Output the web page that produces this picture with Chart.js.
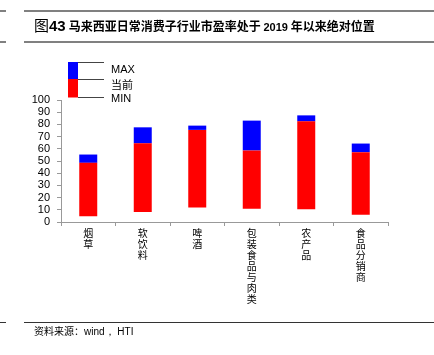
<!DOCTYPE html>
<html>
<head>
<meta charset="utf-8">
<script src="https://cdn.jsdelivr.net/npm/chart.js@4"></script>
<style>
  html, body { margin: 0; padding: 0; background: #fff; }
  body { width: 434px; height: 355px; position: relative; overflow: hidden; }
  #wrap { position: absolute; left: 0; top: 0; width: 434px; height: 355px; }
  .rule { position: absolute; height: 2px; background: #808080; }
  #title { position: absolute; left: 34px; top: 15px; white-space: nowrap; font-family: "Noto Sans CJK SC", sans-serif; font-size: 12px; font-weight: bold; color: #000; line-height: 20px; }
  #title .fig { font-family: "Noto Sans CJK SC", serif; font-size: 15px; font-weight: normal; }
  #title .num { font-family: "Liberation Sans", Arial, sans-serif; font-size: 15px; font-weight: bold; margin-right: 3px; }
  #title .yr { font-family: "Liberation Sans", Arial, sans-serif; font-size: 11px; font-weight: bold; }
  #src { position: absolute; left: 34px; top: 324px; white-space: nowrap; font-family: "Noto Sans CJK SC", sans-serif; font-size: 10px; color: #000; line-height: 14px; }
  #src .lat { font-family: "Liberation Sans", Arial, sans-serif; }
</style>
</head>
<body>
<div id="wrap"><canvas id="c" width="434" height="355"></canvas></div>
<div class="rule" style="left:0;top:10px;width:6px;"></div>
<div class="rule" style="left:24px;top:10px;width:410px;"></div>
<div class="rule" style="left:0;top:41px;width:6px;"></div>
<div class="rule" style="left:24px;top:41px;width:410px;"></div>
<div id="title"><span class="fig">图</span><span class="num">43</span>马来西亚日常消费子行业市盈率处于 <span class="yr">2019</span> 年以来绝对位置</div>
<div class="rule" style="left:0;top:322px;width:6px;background:#333;height:1px;"></div>
<div class="rule" style="left:24px;top:322px;width:410px;background:#333;height:1px;"></div>
<div id="src">资料来源：<span class="lat">wind， HTI</span></div>
<script>
const categories = ["烟草", "软饮料", "啤酒", "包装食品与肉类", "农产品", "食品分销商"];
const minValues = [4.7, 8.2, 11.8, 10.9, 10.4, 6.0];
const currentValues = [48.5, 64.5, 75.5, 58.6, 82.5, 57.2];
const maxValues = [55.3, 77.6, 79.0, 83.1, 87.4, 64.3];
const yTicks = [0, 10, 20, 30, 40, 50, 60, 70, 80, 90, 100];
const legendLabels = ["MAX", "当前", "MIN"];

const redData = categories.map((c, i) => [minValues[i], currentValues[i]]);
const blueData = categories.map((c, i) => [currentValues[i], maxValues[i]]);
const xLabels = categories.map(c => Array.from(c));

const legendPlugin = {
  id: 'customLegend',
  afterDraw(chart) {
    const ctx = chart.ctx;
    ctx.save();
    const bx = 68, bw = 10, top = 62, mid = 79, bot = 97.5;
    ctx.fillStyle = '#0000FF';
    ctx.fillRect(bx, top, bw, mid - top);
    ctx.fillStyle = '#FF0000';
    ctx.fillRect(bx, mid, bw, bot - mid);
    ctx.strokeStyle = '#444';
    ctx.lineWidth = 1;
    [top + 0.5, mid + 0.5, bot].forEach(ly => {
      ctx.beginPath();
      ctx.moveTo(bx + bw, ly);
      ctx.lineTo(104, ly);
      ctx.stroke();
    });
    ctx.fillStyle = '#000';
    ctx.textBaseline = 'middle';
    ctx.textAlign = 'left';
    ctx.font = '11px "Liberation Sans", Arial, sans-serif';
    ctx.fillText(legendLabels[0], 111, 70);
    ctx.font = '11px "Noto Sans CJK SC", sans-serif';
    ctx.fillText(legendLabels[1], 111, 84.5);
    ctx.font = '11px "Liberation Sans", Arial, sans-serif';
    ctx.fillText(legendLabels[2], 111, 98.5);
    ctx.restore();
  }
};

new Chart(document.getElementById('c'), {
  type: 'bar',
  data: {
    labels: xLabels,
    datasets: [
      { label: '当前', data: redData, backgroundColor: '#FF0000', borderWidth: 0, grouped: false, barPercentage: 0.33, categoryPercentage: 1.0 },
      { label: 'MAX', data: blueData, backgroundColor: '#0000FF', borderWidth: 0, grouped: false, barPercentage: 0.33, categoryPercentage: 1.0 }
    ]
  },
  options: {
    responsive: false,
    animation: false,
    devicePixelRatio: 1,
    layout: { padding: { top: 100, right: 46, left: 0, bottom: 0 } },
    plugins: { legend: { display: false }, tooltip: { enabled: false }, title: { display: false } },
    scales: {
      x: {
        grid: { display: true, drawOnChartArea: false, drawTicks: true, tickLength: 4, color: '#999', offset: true },
        border: { display: true, color: '#999', width: 1 },
        ticks: {
          maxRotation: 0, minRotation: 0, autoSkip: false, padding: 2, color: '#000',
          font: { family: '"Noto Sans CJK SC", sans-serif', size: 10, lineHeight: 1.1 }
        },
        afterFit(scale) { scale.height = 133; }
      },
      y: {
        min: 0, max: 100,
        afterBuildTicks(scale) { scale.ticks = yTicks.map(v => ({ value: v })); },
        grid: { display: true, drawOnChartArea: false, drawTicks: true, tickLength: 4, color: '#999' },
        border: { display: true, color: '#999', width: 1 },
        ticks: {
          autoSkip: false, stepSize: 10, padding: 7, color: '#000',
          font: { family: '"Liberation Sans", Arial, sans-serif', size: 11 }
        },
        afterFit(scale) { scale.width = 61; }
      }
    }
  },
  plugins: [legendPlugin]
});
</script>
</body>
</html>
